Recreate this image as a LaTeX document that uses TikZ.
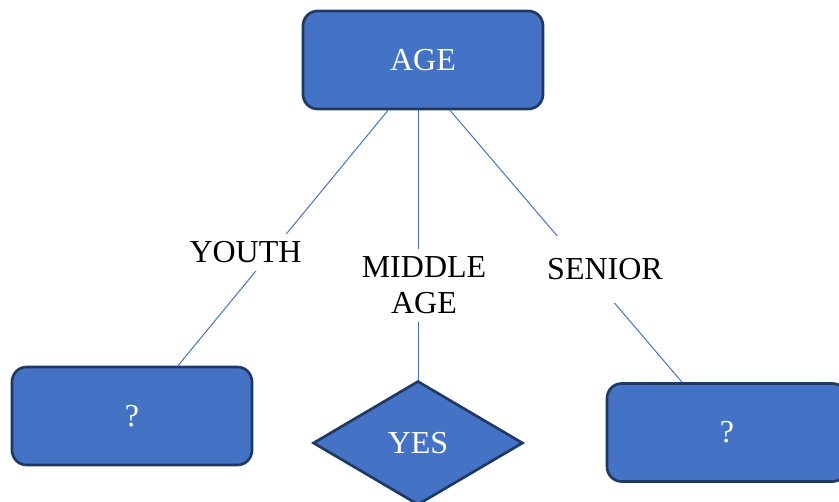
\documentclass[tikz,border=0pt]{standalone}
\usepackage{fontspec}
\setmainfont{Liberation Serif}
\definecolor{BoxBlue}{RGB}{68,114,196}
\definecolor{BoxEdge}{RGB}{31,56,100}
\usetikzlibrary{shapes.geometric}

\begin{document}
\begin{tikzpicture}[x=0.75pt,y=-0.75pt,
    every node/.style={font=\fontsize{24}{27}\selectfont},
    blockbox/.style={draw=BoxEdge,fill=BoxBlue,line width=2pt,rounded corners=11pt,
        minimum width=180pt,minimum height=73.5pt,inner sep=0pt,text=white},
    decision/.style={diamond,draw=BoxEdge,fill=BoxBlue,line width=2pt,
        minimum width=157.5pt,minimum height=93pt,inner sep=0pt,text=white},
    branchline/.style={draw=BoxBlue,line width=0.75pt},
    branchlabel/.style={fill=white,inner xsep=2pt,inner ysep=6pt,align=center}]
  \useasboundingbox (0,0) rectangle (839,502);
  \node[blockbox] (age) at (423,60) {AGE};
  \node[blockbox] (youthbox) at (132,416) {?};
  \node[decision] (yes) at (418,443) {YES};
  \node[blockbox] (seniorbox) at (727,432.5) {?};
  % branches
  \draw[branchline] ([xshift=-26.25pt]age.south) -- ([xshift=34.5pt]youthbox.north);
  \draw[branchline] (age.south -| yes.north) -- (yes.north);
  \draw[branchline] ([xshift=20.25pt]age.south) -- ([xshift=-33.75pt]seniorbox.north);
  \node[branchlabel] (youth) at (245.5,252.5) {YOUTH};
  \node[branchlabel] (middle) at (424,285.5) {MIDDLE\\AGE};
  \node[branchlabel,inner ysep=17pt] (senior) at (605,269.5) {SENIOR};
\end{tikzpicture}
\end{document}
